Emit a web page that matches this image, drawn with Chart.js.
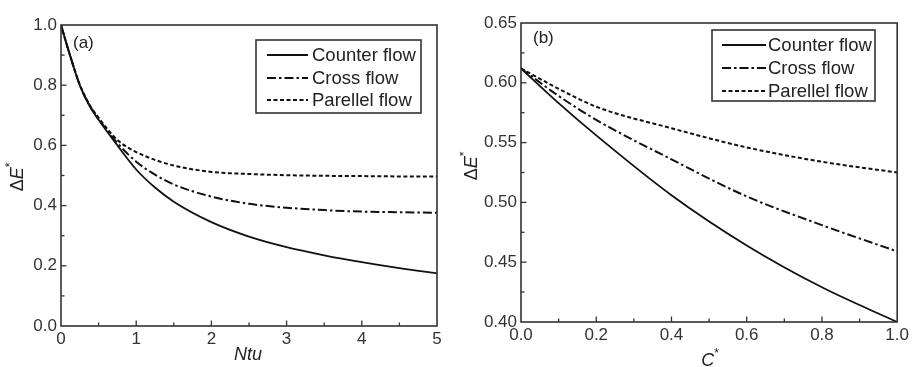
<!DOCTYPE html>
<html>
<head>
<meta charset="utf-8">
<script src="https://cdn.jsdelivr.net/npm/chart.js@4"></script>
<style>
  body { margin: 0; background: #fff; }
  #wrap { position: relative; width: 912px; height: 367px; }
  canvas { position: absolute; top: 0; }
  #chartA { left: 0; }
  #chartB { left: 460px; }
</style>
</head>
<body>
<div id="wrap">
  <canvas id="chartA" width="460" height="367"></canvas>
  <canvas id="chartB" width="452" height="367"></canvas>
</div>
<script>
// (a) dE* vs Ntu
const ntu = [0, 0.125, 0.25, 0.375, 0.5, 0.75, 1, 1.25, 1.5, 2, 2.5, 3, 3.5, 4, 4.5, 5];
const counterA = [1.0, 0.895, 0.8, 0.733, 0.685, 0.6, 0.52, 0.46, 0.413, 0.345, 0.297, 0.262, 0.235, 0.212, 0.192, 0.175];
const crossA = [1.0, 0.895, 0.8, 0.735, 0.688, 0.608, 0.546, 0.503, 0.47, 0.43, 0.406, 0.393, 0.385, 0.38, 0.378, 0.376];
const parallelA = [1.0, 0.895, 0.802, 0.737, 0.692, 0.618, 0.578, 0.552, 0.533, 0.512, 0.505, 0.501, 0.499, 0.498, 0.497, 0.497];

// (b) dE* vs C*
const cStar = [0, 0.1, 0.2, 0.4, 0.6, 0.8, 1.0];
const counterB = [0.612, 0.583, 0.556, 0.506, 0.464, 0.429, 0.400];
const crossB = [0.612, 0.589, 0.569, 0.536, 0.505, 0.481, 0.459];
const parallelB = [0.612, 0.595, 0.580, 0.562, 0.546, 0.534, 0.525];

const seriesNames = ["Counter flow", "Cross flow", "Parellel flow"];

const FONT = "'Liberation Sans', Arial, sans-serif";
const lineStyles = [[], [9, 3, 2.5, 3], [4, 2.5]];

function pts(xs, ys) {
  return xs.map((x, i) => ({ x: x, y: ys[i] }));
}

// draws a title made of pieces (normal / italic / superscript)
function drawPieces(ctx, parts, cx, cy, rotate) {
  ctx.save();
  ctx.translate(cx, cy);
  if (rotate) ctx.rotate(-Math.PI / 2);
  let total = 0;
  parts.forEach(p => {
    ctx.font = (p.italic ? "italic " : "") + (p.sup ? 12 : 18) + "px " + FONT;
    p.w = ctx.measureText(p.t).width;
    total += p.w;
  });
  let x = -total / 2;
  ctx.textBaseline = "middle";
  ctx.textAlign = "left";
  ctx.fillStyle = "#222";
  parts.forEach(p => {
    ctx.font = (p.italic ? "italic " : "") + (p.sup ? 12 : 18) + "px " + FONT;
    ctx.fillText(p.t, x, p.sup ? -7 : 0);
    x += p.w;
  });
  ctx.restore();
}

const decor = {
  id: "decor",
  afterDraw(chart, args, o) {
    const ctx = chart.ctx, a = chart.chartArea;
    ctx.save();
    ctx.strokeStyle = "#333";
    ctx.lineWidth = 1.3;
    // inward ticks, every other one is major
    const ticks = (scale, step, horiz) => {
      const n = Math.round((scale.max - scale.min) / step);
      for (let i = 1; i < n; i++) {
        const p = scale.getPixelForValue(scale.min + i * step);
        const len = i % 2 === 0 ? 5.5 : 3.5;
        ctx.beginPath();
        if (horiz) { ctx.moveTo(p, a.bottom); ctx.lineTo(p, a.bottom - len); }
        else { ctx.moveTo(a.left, p); ctx.lineTo(a.left + len, p); }
        ctx.stroke();
      }
    };
    ticks(chart.scales.x, o.minorX, true);
    ticks(chart.scales.y, o.minorY, false);

    // frame
    ctx.lineWidth = 1.6;
    ctx.strokeRect(a.left, a.top, a.right - a.left, a.bottom - a.top);

    // legend
    const b = o.legendBox;
    ctx.strokeRect(b[0], b[1], b[2] - b[0], b[3] - b[1]);
    chart.data.datasets.forEach((ds, i) => {
      const y = o.rows[i];
      ctx.strokeStyle = ds.borderColor;
      ctx.lineWidth = ds.borderWidth;
      ctx.setLineDash(ds.borderDash);
      ctx.beginPath();
      ctx.moveTo(o.lineX[0], y);
      ctx.lineTo(o.lineX[1], y);
      ctx.stroke();
      ctx.setLineDash([]);
      ctx.fillStyle = "#222";
      ctx.font = "18.5px " + FONT;
      ctx.textBaseline = "middle";
      ctx.textAlign = "left";
      ctx.fillText(ds.label, o.textX, y + 1);
    });

    // panel tag
    ctx.font = "17px " + FONT;
    ctx.fillStyle = "#222";
    ctx.fillText(o.tag, o.tagPos[0], o.tagPos[1]);
    ctx.restore();

    drawPieces(ctx, o.xTitle, o.xTitlePos[0], o.xTitlePos[1], false);
    drawPieces(ctx, [{ t: "\u0394" }, { t: "E", italic: true }, { t: "*", sup: true }],
      o.yTitlePos[0], o.yTitlePos[1], true);
  }
};

function makeChart(id, xs, ys, xr, yr, cfg) {
  const datasets = ys.map((arr, i) => ({
    label: seriesNames[i],
    data: pts(xs, arr),
    borderColor: "#111",
    borderWidth: i === 0 ? 1.8 : 2,
    borderDash: lineStyles[i],
    pointRadius: 0,
    fill: false,
    cubicInterpolationMode: "monotone"
  }));
  return new Chart(document.getElementById(id), {
    type: "line",
    data: { datasets: datasets },
    plugins: [decor],
    options: {
      responsive: false,
      animation: false,
      events: [],
      layout: { padding: cfg.padding },
      plugins: { legend: { display: false }, tooltip: { enabled: false }, decor: cfg.decor },
      scales: {
        x: {
          type: "linear", min: xr[0], max: xr[1],
          grid: { display: false, drawTicks: false }, border: { display: false },
          ticks: { stepSize: xr[2], padding: 3, color: "#333", font: { family: FONT, size: 17 },
            callback: v => v.toFixed(xr[3]) },
          afterFit: s => { s.height = cfg.xHeight; }
        },
        y: {
          min: yr[0], max: yr[1],
          grid: { display: false, drawTicks: false }, border: { display: false },
          ticks: { stepSize: yr[2], padding: 4, color: "#333", font: { family: FONT, size: 17 },
            callback: v => v.toFixed(yr[3]) },
          afterFit: s => { s.width = 61; }
        }
      }
    }
  });
}

makeChart("chartA", ntu, [counterA, crossA, parallelA], [0, 5, 1, 0], [0, 1, 0.2, 1], {
  padding: { left: 0, right: 23, top: 25, bottom: 0 },
  xHeight: 41,
  decor: {
    minorX: 0.5, minorY: 0.1,
    legendBox: [256, 40, 421, 113], rows: [55, 78, 100], lineX: [267, 308], textX: 312,
    tag: "(a)", tagPos: [73, 43],
    xTitle: [{ t: "Ntu", italic: true }], xTitlePos: [248, 355],
    yTitlePos: [18, 177]
  }
});

makeChart("chartB", cStar, [counterB, crossB, parallelB], [0, 1, 0.2, 1], [0.4, 0.65, 0.05, 2], {
  padding: { left: 0, right: 14, top: 23, bottom: 0 },
  xHeight: 45,
  decor: {
    minorX: 0.1, minorY: 0.025,
    legendBox: [252, 30, 415, 101], rows: [45, 68, 91], lineX: [262, 306], textX: 308,
    tag: "(b)", tagPos: [73, 38],
    xTitle: [{ t: "C", italic: true }, { t: "*", sup: true }], xTitlePos: [250, 361],
    yTitlePos: [12, 166]
  }
});
</script>
</body>
</html>
